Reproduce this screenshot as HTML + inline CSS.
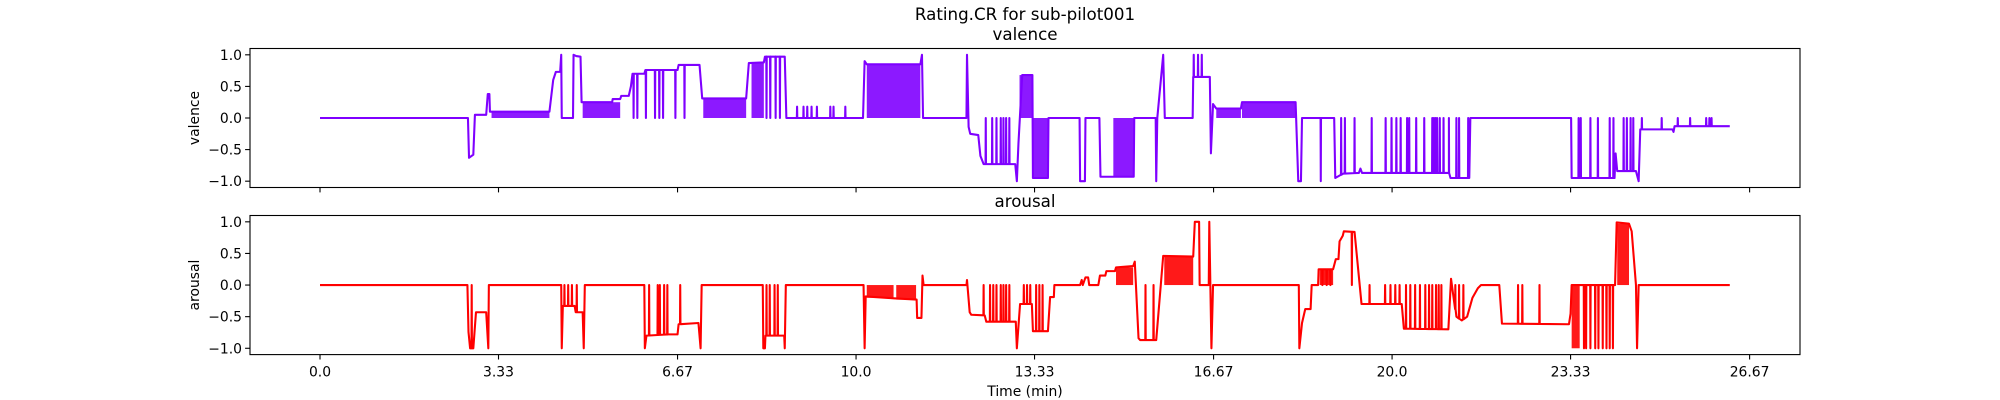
<!DOCTYPE html>
<html><head><meta charset="utf-8"><title>Rating.CR for sub-pilot001</title>
<style>
html,body{margin:0;padding:0;background:#fff;}
svg{display:block;font-family:"DejaVu Sans","Liberation Sans",sans-serif;}
</style></head>
<body>
<svg id="chart" width="2000" height="400" viewBox="0 0 2000 400" xmlns="http://www.w3.org/2000/svg">
<rect x="0" y="0" width="2000" height="400" fill="#fff"/>
<text x="1025" y="20" font-size="16.7" text-anchor="middle">Rating.CR for sub-pilot001</text>
<text x="1025" y="40" font-size="16.7" text-anchor="middle">valence</text>
<text x="1025" y="207" font-size="16.7" text-anchor="middle">arousal</text>
<text x="1025" y="396" font-size="13.9" text-anchor="middle">Time (min)</text>
<g id="layer"></g>
</svg>
<script>
// ---- data ----
const xTicks = [0, 3.33, 6.67, 10.0, 13.33, 16.67, 20.0, 23.33, 26.67];
const xTickLabels = ["0.0","3.33","6.67","10.0","13.33","16.67","20.0","23.33","26.67"];
const yTicks = [-1, -0.5, 0, 0.5, 1];
const yTickLabels = ["\u22121.0","\u22120.5","0.0","0.5","1.0"];

const valT = [0,2.76,2.78,2.86,2.89,3.10,3.13,3.16,3.17,4.28,4.35,4.40,4.48,4.5,4.51,4.72,4.73,4.78,4.86,4.88,5.45,5.46,5.6,5.62,5.76,5.8,5.83,6.05,6.07,6.67,6.69,7.08,7.13,7.95,8.0,8.28,8.3,8.67,8.7,10.13,10.16,10.2,11.2,11.23,11.25,12.06,12.07,12.1,12.13,12.28,12.32,12.38,12.97,13.0,13.03,13.1,13.29,13.3,13.58,13.59,14.17,14.18,14.27,14.28,14.54,14.56,15.18,15.19,15.59,15.6,15.62,15.73,15.76,16.28,16.29,16.6,16.62,16.66,16.72,17.18,17.2,18.2,18.25,18.3,18.32,18.92,18.94,19.09,19.38,19.41,19.44,21.06,21.09,21.44,21.46,23.34,23.35,24.15,24.17,24.2,24.55,24.6,24.63,25.23,25.25,25.27,26.3];
const valV = [0,0,-0.63,-0.58,0.05,0.05,0.38,0.38,0.1,0.1,0.6,0.73,0.73,1.0,0,0,1.0,0.98,0.97,0.25,0.25,0.3,0.3,0.35,0.35,0.5,0.7,0.7,0.76,0.76,0.84,0.84,0.31,0.31,0.87,0.88,0.97,0.97,0,0,0.9,0.85,0.85,1.0,0,0,1.0,-0.14,-0.25,-0.27,-0.6,-0.73,-0.73,-1.0,-0.4,0.68,0.68,-0.95,-0.95,0,0,-1,-1,0,0,-0.93,-0.93,0,0,-1,0,1.0,0,0,0.65,0.65,-0.56,0.22,0.15,0.15,0.25,0.25,-1,-1,0,0,-0.95,-0.88,-0.87,-0.8,-0.87,-0.87,-0.95,-0.95,0,0,-0.95,-0.95,-0.56,-0.84,-0.84,-1,-0.18,-0.18,-0.22,-0.13,-0.13];
const valSpikeT = [5.85,5.92,6.08,6.25,6.33,6.4,6.63,6.8,8.33,8.4,8.5,8.58,8.9,9.02,9.09,9.17,9.27,9.52,9.58,9.8,12.42,12.54,12.62,12.7,12.75,12.8,12.86,16.3,16.38,16.45,18.67,19.05,19.12,19.3,19.62,19.88,19.99,20.08,20.16,20.28,20.32,20.45,20.6,20.75,20.78,20.81,20.84,20.89,20.96,21.06,21.2,21.25,21.42,23.48,23.52,23.7,23.84,24.06,24.13,24.32,24.38,24.45,24.5,24.66,25.03,25.33,25.56,25.86,25.92,25.96];
const valSpikeV = [0,0,0,0,0,0,0,0,0,0,0,0,0.18,0.18,0.18,0.18,0.18,0.18,0.18,0.18,0,0,0,0,0,0,0,1.0,1.0,1.0,-1,0,0,0,0,0,0,0,0,0,0,0,0,0,0,0,0,0,0,0,0,0,0,0,0,0,0,0,0,0,0,0,0,0,0,0,0,0,0,0];
const valBurstStart = [3.2,4.9,7.15,8.05,10.2,13.05,13.3,14.8,16.72,17.2];
const valBurstEnd = [4.28,5.6,7.95,8.28,11.2,13.29,13.58,15.18,17.18,18.2];
const valBurstLo = [0,0,0,0,0,0,-0.95,-0.93,0,0];
const valBurstHi = [0.1,0.25,0.31,0.87,0.85,0.68,0,0,0.15,0.25];

const aroT = [0,2.75,2.77,2.8,2.86,2.91,3.1,3.14,3.15,4.5,4.51,4.53,4.75,4.77,4.9,4.92,4.94,6.05,6.06,6.09,6.5,6.67,6.69,7.06,7.1,7.12,8.26,8.27,8.3,8.31,8.66,8.67,8.69,10.14,10.16,10.18,10.7,11.13,11.14,11.22,11.24,11.26,12.06,12.07,12.12,12.15,12.4,12.43,12.98,13.0,13.06,13.28,13.3,13.58,13.62,13.69,13.7,14.18,14.21,14.23,14.28,14.33,14.35,14.52,14.55,14.65,14.67,14.83,14.85,15.17,15.2,15.27,15.3,15.6,15.73,16.29,16.32,16.4,16.41,16.58,16.59,16.63,16.66,18.26,18.27,18.32,18.38,18.48,18.5,18.62,18.63,18.9,18.95,19.0,19.02,19.08,19.1,19.3,19.43,20.18,20.22,21.05,21.1,21.2,21.3,21.4,21.5,21.6,21.66,22.0,22.05,23.3,23.33,23.35,24.16,24.19,24.42,24.47,24.55,24.57,24.6,26.3];
const aroV = [0,0,-0.74,-1,-1,-0.43,-0.43,-1,0,0,-1,-0.33,-0.33,-0.43,-0.43,-1,0,0,-1,-0.8,-0.78,-0.78,-0.62,-0.6,-1,0,0,-1,-1,-0.8,-0.8,-1,0,0,-1,-0.18,-0.21,-0.23,-0.52,-0.52,0.15,0,0,0.08,-0.43,-0.47,-0.48,-0.58,-0.58,-1,-0.3,-0.3,-0.73,-0.73,-0.19,-0.19,0,0,0.08,0,0.12,0.12,0,0,0.15,0.15,0.22,0.22,0.28,0.3,0.37,-0.84,-0.87,-0.87,0.46,0.45,1.0,1.0,0,0,1.0,-1,0,0,-1,-0.6,-0.38,-0.38,0,0,0.25,0.25,0.41,0.41,0.69,0.78,0.85,0.84,-0.3,-0.3,-0.69,-0.7,0.1,-0.5,-0.56,-0.5,-0.2,-0.05,0,0,-0.61,-0.62,-0.45,0,0,0.99,0.97,0.85,0,-1,0,0];
const aroSpikeT = [2.83,4.56,4.63,4.7,4.79,6.14,6.3,6.34,6.42,6.48,6.72,8.33,8.39,8.48,8.54,12.38,12.5,12.56,12.62,12.7,12.75,12.8,12.86,13.13,13.19,13.25,13.36,13.42,13.48,15.4,15.55,18.7,18.78,18.85,19.25,19.58,19.87,19.97,20.06,20.14,20.26,20.34,20.43,20.52,20.62,20.69,20.75,20.82,20.87,20.92,21.18,21.25,21.33,22.35,22.43,22.75,23.58,23.62,23.7,23.79,23.85,23.93,24.0,24.06,24.12];
const aroSpikeV = [0,0,0,0,0,0,0,0,0,0,0,0,0,0,0,0,0,0,0,0,0,0,0,0,0,0,0,0,0,0,0,0,0,0,0,0,0,0,0,0,0,0,0,0,0,0,0,0,0,0,0,0,0,0,0,0,-1,-1,-1,-1,-1,-1,-1,-1,-1];
const aroBurstStart = [10.2,10.75,14.85,15.75,18.65,23.35,24.2];
const aroBurstEnd = [10.7,11.12,15.17,16.29,18.9,23.5,24.42];
const aroBurstLo = [-0.2,-0.23,0,0,0,-1,0];
const aroBurstHi = [0,0,0.28,0.45,0.25,0,0.97];

// ---- geometry ----
const NS = "http://www.w3.org/2000/svg";
const AX_L = 250, AX_R = 1800;
const XMIN = -1.306, XMAX = 27.61;
const panels = [
  {name:"valence", top:48.5, bottom:187.5, color:"#7f00ff", T:valT, V:valV, ST:valSpikeT, SV:valSpikeV, BS:valBurstStart, BE:valBurstEnd, BL:valBurstLo, BH:valBurstHi, labels:false},
  {name:"arousal", top:215.5, bottom:354.6, color:"#ff0000", T:aroT, V:aroV, ST:aroSpikeT, SV:aroSpikeV, BS:aroBurstStart, BE:aroBurstEnd, BL:aroBurstLo, BH:aroBurstHi, labels:true}
];
function xScale(t){ return AX_L + (t - XMIN) / (XMAX - XMIN) * (AX_R - AX_L); }
function yScaleFor(p){ return v => p.bottom - (v + 1.1) / 2.2 * (p.bottom - p.top); }
function baseAt(T, V, t){
  for (let i = 1; i < T.length; i++) {
    if (t <= T[i]) { const f = (t - T[i-1]) / ((T[i] - T[i-1]) || 1); return V[i-1] + f * (V[i] - V[i-1]); }
  }
  return V[V.length - 1];
}
function mk(tag, attrs, parent){
  const e = document.createElementNS(NS, tag);
  for (const k in attrs) e.setAttribute(k, attrs[k]);
  parent.appendChild(e);
  return e;
}
const layer = document.getElementById('layer');

panels.forEach(p => {
  const ys = yScaleFor(p);
  const g = mk('g', {}, layer);
  
  

  for (let i = 0; i < p.BS.length; i++) {
    const r = mk('rect', {x: xScale(p.BS[i]), y: ys(p.BH[i]), width: Math.max(1, xScale(p.BE[i]) - xScale(p.BS[i])), height: Math.max(1, ys(p.BL[i]) - ys(p.BH[i])), fill: p.color, 'fill-opacity': 0.9}, g);
    
    
  }
  const pts = p.T.map((t, i) => [t, p.V[i]]);
  for (let i = 0; i < p.ST.length; i++) {
    const t = p.ST[i], b = baseAt(p.T, p.V, t);
    pts.push([t - 0.004, b], [t, p.SV[i]], [t + 0.004, b]);
  }
  pts.sort((a, b) => a[0] - b[0]);
  const d = pts.map((q, i) => (i ? 'L' : 'M') + xScale(q[0]).toFixed(2) + ',' + ys(q[1]).toFixed(2)).join('');
  const path = mk('path', {d: d, fill: 'none', stroke: p.color, 'stroke-width': 2.08, 'stroke-linejoin': 'round'}, g);
  
  

  const fr = mk('rect', {x: AX_L, y: p.top, width: AX_R - AX_L, height: p.bottom - p.top, fill: 'none', stroke: '#000', 'stroke-width': 1.1}, g);
  
  

  yTicks.forEach((v, i) => {
    const y = ys(v);
    const tk = mk('line', {x1: AX_L - 4.9, x2: AX_L, y1: y, y2: y, stroke: '#000', 'stroke-width': 1.1}, g);
    
    
    const tx = mk('text', {x: AX_L - 8, y: y + 5, 'font-size': 13.9, 'text-anchor': 'end'}, g);
    tx.textContent = yTickLabels[i];
    
    
  });
  xTicks.forEach((t, i) => {
    const x = xScale(t);
    const tk = mk('line', {x1: x, x2: x, y1: p.bottom, y2: p.bottom + 4.9, stroke: '#000', 'stroke-width': 1.1}, g);
    
    
    if (p.labels) {
      const tx = mk('text', {x: x, y: p.bottom + 22, 'font-size': 13.9, 'text-anchor': 'middle'}, g);
      tx.textContent = xTickLabels[i];
      
      
    }
  });
  const cy = (p.top + p.bottom) / 2;
  const yl = mk('text', {x: 199, y: cy, 'font-size': 13.9, 'text-anchor': 'middle', transform: 'rotate(-90 199 ' + cy + ')'}, g);
  yl.textContent = p.name;
  
  
});
</script>
</body></html>
